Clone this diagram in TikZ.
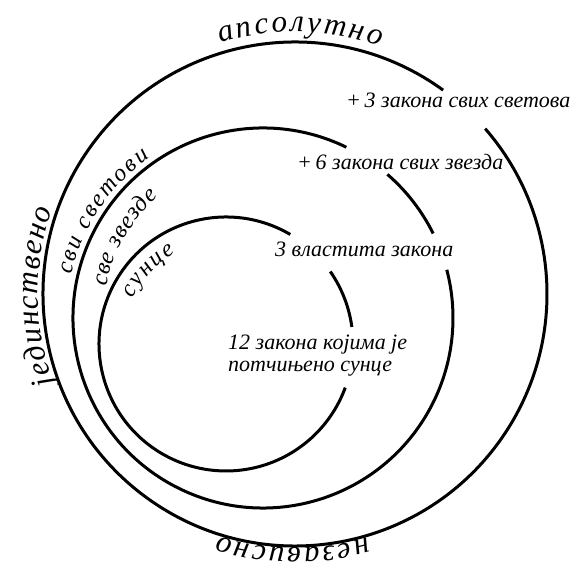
\documentclass[tikz,border=0pt]{standalone}
\usepackage{fontspec}
\setmainfont{Liberation Serif}[Script=Cyrillic,Language=Serbian]
\usetikzlibrary{decorations.text}

\newcommand{\velikifont}{\itshape\fontsize{31}{34}\selectfont}
\newcommand{\srednjifont}{\itshape\fontsize{24}{26}\selectfont}
\newcommand{\malifont}{\itshape\fontsize{22}{22}\selectfont}

\begin{document}
\begin{tikzpicture}[x=1pt, y=1pt, krug/.style = {line width=3pt}, zakon/.style = {font=\malifont, inner sep=0pt}, natpis/.style = {decorate, decoration={text along path, text align=fit to path, text={#1}}}]
		\useasboundingbox (0,0) rectangle (573,569);
		\coordinate (A) at (295,275);
		\coordinate (B) at (263,251);
		\coordinate (C) at (226,225);
		
		% krugovi
		\draw[krug] (A) ++(54:252) arc[start angle=54, end angle=401, radius=252];
		\draw[krug] (B) ++(64:190) arc[start angle=64, end angle=374.7, radius=190];
		\draw[krug] (B) ++(26.4:190) arc[start angle=26.4, end angle=49.1, radius=190];
		\draw[krug] (C) ++(59.6:127) arc[start angle=59.6, end angle=339.9, radius=127];
		\draw[krug] (C) ++(7.7:127) arc[start angle=7.7, end angle=34.8, radius=127];
		
		% zakoni
		\node[zakon, anchor=base west] (tri) at (346,461) {+\,3 закона свих светова};
		\node[zakon, anchor=base west] (sest) at (297,399) {+\,6 закона свих звезда};
		\node[zakon, anchor=base west] (vlastita) at (275,312) {3 властита закона};
		\node[zakon, anchor=west, align=left] (dvanaest) at (228,213) {12 закона којима је\\потчињено сунце};
		
		% natpisi uz krugove
		\path[natpis={|\velikifont|апсолутно}] (A) ++(106.6:262) arc[start angle=106.6, end angle=71, radius=262];
		\path[natpis={|\velikifont|јединствено}] (A) ++(200.3:257) arc[start angle=200.3, end angle=160.9, radius=257];
		\path[natpis={|\velikifont|независно}] (A) ++(286.5:254) arc[start angle=286.5, end angle=252.4, radius=254];
		\path[natpis={|\srednjifont|сви светови}] (B) ++(167.3:196) arc[start angle=167.3, end angle=125.2, radius=196];
		\path[natpis={|\srednjifont|све звезде}] (B) ++(168.7:160) arc[start angle=168.7, end angle=130.7, radius=160];
		\path[natpis={|\srednjifont|сунце}] (C) ++(153.8:104) arc[start angle=153.8, end angle=119.2, radius=104];
	\end{tikzpicture}
\end{document}
